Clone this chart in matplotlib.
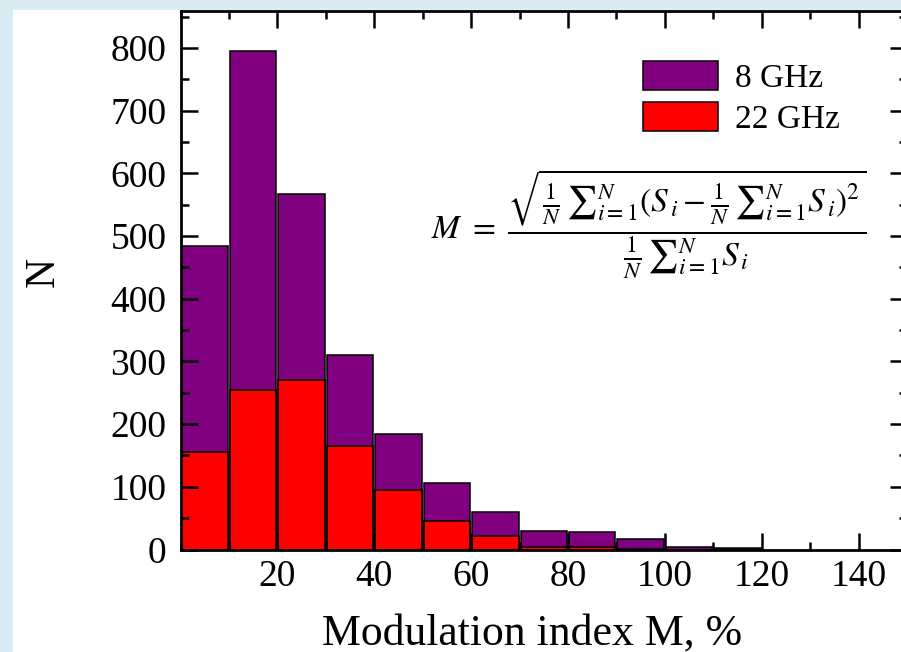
import matplotlib
matplotlib.use("Agg")
import matplotlib.pyplot as plt
from matplotlib.patches import Rectangle
from matplotlib.ticker import MultipleLocator

plt.rcParams["font.family"] = ["Liberation Serif", "DejaVu Serif"]
plt.rcParams["mathtext.fontset"] = "stix"

# histogram bins of the modulation index, %
bin_left = [0, 10, 20, 30, 40, 50, 60, 70, 80, 90, 100, 110]
counts_8ghz = [485, 795, 567, 310, 184, 106, 60, 29, 28, 16, 4, 3]
counts_22ghz = [155, 254, 271, 165, 95, 45, 21, 4, 4, 1, 0, 0]

x_ticks = [20, 40, 60, 80, 100, 120, 140]
y_ticks = [0, 100, 200, 300, 400, 500, 600, 700, 800]

W, H = 901, 652
fig = plt.figure(figsize=(W / 100, H / 100), dpi=100, facecolor="#dbedf4")
# white sheet behind the plot
fig.patches.append(
    Rectangle((13 / W, 0), 1, (H - 10) / H, transform=fig.transFigure,
              facecolor="white", edgecolor="none", zorder=-10)
)

left, right, top, bottom = 180.5, 907, 10.5, 549.5
ax = fig.add_axes([left / W, (H - bottom) / H, (right - left) / W, (bottom - top) / H])
ax.set_facecolor("white")

centers = [b + 5 for b in bin_left]
ax.bar(centers, counts_8ghz, width=9.6, color="#800080", edgecolor="black",
       linewidth=1.1, label="8 GHz")
ax.bar(centers, counts_22ghz, width=9.6, color="#ff0000", edgecolor="black",
       linewidth=1.1, label="22 GHz")

ax.set_xlim(0, 150)
ax.set_ylim(0, 860)
ax.set_xticks(x_ticks)
ax.set_yticks(y_ticks)
ax.xaxis.set_minor_locator(MultipleLocator(10))
ax.yaxis.set_minor_locator(MultipleLocator(50))
ax.tick_params(which="both", direction="in", top=True, right=True, width=1.8)
ax.tick_params(which="major", length=12, labelsize=27)
ax.tick_params(which="minor", length=6)
ax.tick_params(axis="x", pad=7)
ax.tick_params(axis="y", pad=10)
for sp in ax.spines.values():
    sp.set_linewidth(2)

ax.set_xlabel("Modulation index M, %", fontsize=31.5)
ax.xaxis.set_label_coords((532 - left) / (right - left), -0.118)
ax.set_ylabel("N", fontsize=30)
ax.yaxis.set_label_coords((63 - left) / (right - left), 0.515)

ax.legend(loc="upper left", bbox_to_anchor=((643 - left) / (right - left), 1 - (61 - top) / (bottom - top)),
          frameon=False, fontsize=24, handlelength=2.25, handleheight=0.95,
          handletextpad=0.5, labelspacing=0.25, borderaxespad=0, borderpad=0)

formula = (r"$M\ =\ \dfrac{\sqrt{\frac{1}{N}\,{\sum}_{i=1}^{N}(S_{\,i}-\frac{1}{N}\,{\sum}_{i=1}^{N}S_{\,i})^{2}}}"
           r"{\frac{1}{N}\,{\sum}_{i=1}^{N}S_{\,i}}$")
ax.text((866 - left) / (right - left), (bottom - 224) / (bottom - top), formula,
        transform=ax.transAxes, ha="right", va="center", fontsize=24)

fig.savefig("out.png", dpi=100, facecolor=fig.get_facecolor())
